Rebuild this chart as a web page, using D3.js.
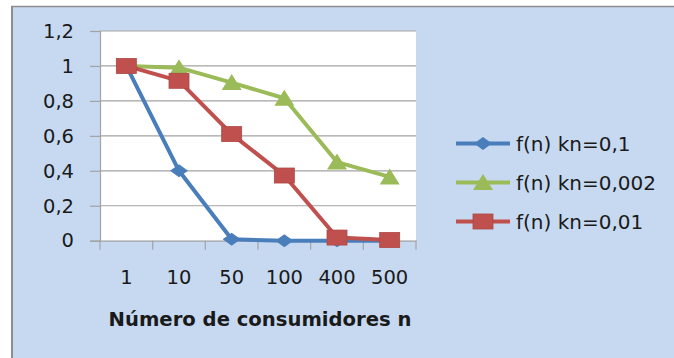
<!DOCTYPE html>
<html>
<head>
<meta charset="utf-8">
<script src="https://cdn.jsdelivr.net/npm/d3@7"></script>
<style>
  html, body { margin: 0; padding: 0; background: #ffffff; }
  svg { display: block; }
  text { font-family: "DejaVu Sans", sans-serif; fill: #1a1a1a; }
</style>
</head>
<body>
<svg id="chart" width="674" height="358"></svg>
<script>
// Number of consumers (categories on the x axis)
const categories = ["1", "10", "50", "100", "400", "500"];

// f(n) for each decay constant
const seriesKn01   = [1, 0.40, 0.008, 0, 0, 0];
const seriesKn0002 = [1, 0.99, 0.905, 0.815, 0.45, 0.365];
const seriesKn001  = [1, 0.915, 0.61, 0.373, 0.018, 0.004];

const seriesNames = ["f(n) kn=0,1", "f(n) kn=0,002", "f(n) kn=0,01"];
const yTicks = [0, 0.2, 0.4, 0.6, 0.8, 1, 1.2];
const xTitle = "Número de consumidores n";

const series = [
  { name: seriesNames[0], values: seriesKn01,   color: "#4a7ebb", marker: "diamond" },
  { name: seriesNames[1], values: seriesKn0002, color: "#9bbb59", marker: "triangle" },
  { name: seriesNames[2], values: seriesKn001,  color: "#c0504d", marker: "square" }
];

const svg = d3.select("#chart");

// chart area background with its frame
svg.append("rect").attr("x", 11).attr("y", 6).attr("width", 700).attr("height", 400)
  .attr("fill", "#c6d9f0");
svg.append("line").attr("x1", 12).attr("x2", 12).attr("y1", 6).attr("y2", 358)
  .attr("stroke", "#8e8e8e").attr("stroke-width", 2);
svg.append("line").attr("x1", 11).attr("x2", 674).attr("y1", 6.5).attr("y2", 6.5)
  .attr("stroke", "#8e8e8e").attr("stroke-width", 1.5);

const plot = { left: 100, right: 416, top: 31, bottom: 240.7 };

const x = d3.scaleBand().domain(categories).range([plot.left, plot.right]).padding(0);
const y = d3.scaleLinear().domain([0, 1.2]).range([plot.bottom, plot.top]);
const fmt = v => d3.format(".1~f")(v).replace(".", ",");

// plot area
svg.append("rect")
  .attr("x", plot.left).attr("y", plot.top)
  .attr("width", plot.right - plot.left).attr("height", plot.bottom - plot.top)
  .attr("fill", "#ffffff");

// horizontal gridlines
svg.append("g").selectAll("line").data(yTicks.filter(v => v > 0)).join("line")
  .attr("x1", plot.left).attr("x2", plot.right)
  .attr("y1", d => y(d)).attr("y2", d => y(d))
  .attr("stroke", "#a3a3a3").attr("stroke-width", 1.2);

// y axis
const yAxis = svg.append("g")
  .attr("transform", `translate(${plot.left},0)`)
  .call(d3.axisLeft(y).tickValues(yTicks).tickFormat(fmt).tickSize(10).tickPadding(16));
yAxis.select(".domain").attr("stroke", "#a3a3a3").attr("stroke-width", 1.2);
yAxis.selectAll(".tick line").attr("stroke", "#a3a3a3").attr("stroke-width", 1.2);
yAxis.selectAll(".tick text")
  .style("font-family", "DejaVu Sans").style("font-size", "19.5px").attr("fill", "#1a1a1a");

// x axis: baseline, tick marks on category boundaries, labels in the middle
const xAxis = svg.append("g")
  .attr("transform", `translate(0,${plot.bottom})`)
  .call(d3.axisBottom(x).tickSize(0).tickPadding(29));
xAxis.select(".domain").attr("stroke", "#a3a3a3").attr("stroke-width", 1.2);
xAxis.selectAll(".tick text")
  .style("font-family", "DejaVu Sans").style("font-size", "19.5px").attr("fill", "#1a1a1a");
const bounds = categories.map(c => x(c)).concat([plot.right]);
xAxis.append("g").selectAll("line").data(bounds).join("line")
  .attr("x1", d => d).attr("x2", d => d).attr("y1", 0).attr("y2", 9)
  .attr("stroke", "#a3a3a3").attr("stroke-width", 1.2);

// axis title
svg.append("text")
  .attr("x", (plot.left + plot.right) / 2 + 2).attr("y", 325.5)
  .attr("text-anchor", "middle")
  .style("font-size", "19.6px").style("font-weight", "bold")
  .text(xTitle);

// marker drawing
function drawMarker(g, type, color) {
  if (type === "square") {
    g.append("rect").attr("x", -10).attr("y", -7.5).attr("width", 20).attr("height", 15)
      .attr("fill", color).attr("stroke", d3.color(color).darker(0.3)).attr("stroke-width", 0.8);
  } else if (type === "triangle") {
    g.append("path").attr("d", "M0,-8.5L10,7.5L-10,7.5Z").attr("fill", color);
  } else {
    g.append("path").attr("d", "M0,-6.5L9,0L0,6.5L-9,0Z").attr("fill", color);
  }
}

const line = d3.line()
  .x((d, i) => x(categories[i]) + x.bandwidth() / 2)
  .y(d => y(d));

// lines first, then markers on top, in series order
series.forEach(s => {
  svg.append("path").datum(s.values)
    .attr("d", line).attr("fill", "none")
    .attr("stroke", s.color).attr("stroke-width", 4)
    .attr("stroke-linejoin", "round");
  s.values.forEach((v, i) => {
    const g = svg.append("g")
      .attr("transform", `translate(${x(categories[i]) + x.bandwidth() / 2},${y(v)})`);
    drawMarker(g, s.marker, s.color);
  });
});

// legend
const legendRows = [143.5, 182.5, 221.5];
series.forEach((s, i) => {
  const g = svg.append("g").attr("transform", `translate(0,${legendRows[i]})`);
  g.append("line").attr("x1", 456).attr("x2", 510).attr("y1", 0).attr("y2", 0)
    .attr("stroke", s.color).attr("stroke-width", 4);
  const m = g.append("g").attr("transform", "translate(483,0)");
  drawMarker(m, s.marker, s.color);
  g.append("text").attr("x", 516).attr("y", 0).attr("dy", "0.36em")
    .style("font-size", "20px").text(s.name);
});
</script>
</body>
</html>
